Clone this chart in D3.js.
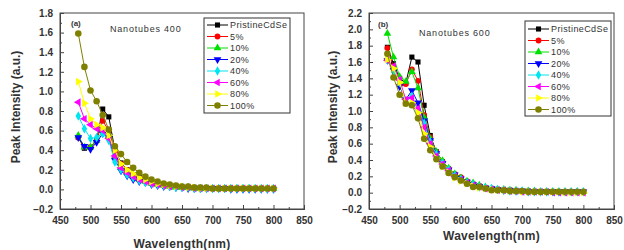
<!DOCTYPE html>
<html>
<head>
<meta charset="utf-8">
<script src="https://cdn.jsdelivr.net/npm/d3@7"></script>
<style>
  body { margin: 0; background: #fff; }
  text { font-family: "Liberation Sans", Arial, sans-serif; }
</style>
</head>
<body>
<div id="container"></div>
<script>
/* DATA */
const wavelengths = [480,490,500,510,520,530,540,550,560,570,580,590,600,610,620,630,640,650,660,670,680,690,700,710,720,730,740,750,760,770,780,790,800];
const seriesNames = ["PristineCdSe", "5%", "10%", "20%", "40%", "60%", "80%", "100%"];

// Nanotubes 400
const pristine400 = [0.53,0.42,0.43,0.50,0.82,0.74,0.40,0.27,0.20,0.15,0.12,0.09,0.07,0.05,0.04,0.03,0.03,0.02,0.02,0.02,0.02,0.01,0.01,0.01,0.01,0.01,0.01,0.01,0.01,0.01,0.01,0.01,0.01];
const p5_400  = [0.53,0.43,0.43,0.50,0.70,0.60,0.38,0.26,0.20,0.15,0.11,0.09,0.07,0.05,0.04,0.03,0.03,0.02,0.02,0.02,0.01,0.01,0.01,0.01,0.01,0.01,0.01,0.01,0.01,0.01,0.01,0.01,0.01];
const p10_400 = [0.55,0.43,0.43,0.50,0.60,0.55,0.33,0.22,0.17,0.13,0.10,0.08,0.06,0.05,0.04,0.03,0.02,0.02,0.02,0.01,0.01,0.01,0.01,0.01,0.01,0.01,0.01,0.01,0.01,0.01,0.01,0.01,0.01];
const p20_400 = [0.53,0.44,0.41,0.48,0.57,0.52,0.30,0.19,0.14,0.10,0.08,0.07,0.05,0.04,0.03,0.03,0.02,0.02,0.01,0.01,0.01,0.01,0.01,0.01,0.01,0.00,0.00,0.00,0.00,0.00,0.00,0.00,0.00];
const p40_400 = [0.75,0.62,0.52,0.53,0.57,0.50,0.28,0.20,0.15,0.12,0.09,0.07,0.06,0.05,0.04,0.03,0.02,0.02,0.02,0.01,0.01,0.01,0.01,0.01,0.01,0.01,0.01,0.01,0.01,0.01,0.01,0.01,0.01];
const p60_400 = [0.89,0.72,0.66,0.62,0.60,0.52,0.34,0.22,0.17,0.13,0.10,0.08,0.06,0.05,0.04,0.03,0.03,0.02,0.02,0.01,0.01,0.01,0.01,0.01,0.01,0.01,0.01,0.01,0.01,0.01,0.01,0.01,0.01];
const p80_400 = [1.10,0.88,0.72,0.66,0.63,0.55,0.40,0.26,0.20,0.16,0.12,0.10,0.08,0.06,0.05,0.04,0.03,0.03,0.02,0.02,0.01,0.01,0.01,0.01,0.01,0.01,0.01,0.01,0.01,0.01,0.01,0.01,0.01];
const p100_400 = [1.59,1.25,1.01,0.90,0.76,0.61,0.44,0.36,0.28,0.22,0.17,0.13,0.10,0.08,0.06,0.05,0.04,0.03,0.03,0.02,0.02,0.02,0.01,0.01,0.01,0.01,0.01,0.01,0.01,0.01,0.01,0.01,0.01];

// Nanotubes 600
const pristine600 = [1.78,1.58,1.40,1.34,1.66,1.60,1.07,0.70,0.50,0.38,0.29,0.22,0.17,0.13,0.10,0.08,0.06,0.05,0.04,0.03,0.03,0.02,0.02,0.02,0.01,0.01,0.01,0.01,0.01,0.01,0.01,0.01,0.01];
const p5_600  = [1.77,1.54,1.32,1.33,1.51,1.37,0.95,0.68,0.50,0.38,0.29,0.23,0.19,0.14,0.11,0.08,0.06,0.05,0.04,0.03,0.03,0.02,0.02,0.02,0.01,0.01,0.01,0.01,0.01,0.01,0.01,0.01,0.01];
const p10_600 = [1.95,1.66,1.42,1.36,1.48,1.28,0.92,0.66,0.50,0.39,0.30,0.23,0.18,0.14,0.12,0.09,0.07,0.05,0.04,0.04,0.03,0.03,0.02,0.02,0.02,0.01,0.01,0.01,0.01,0.01,0.01,0.01,0.01];
const p20_600 = [1.62,1.50,1.30,1.14,1.25,1.10,0.88,0.64,0.48,0.36,0.28,0.22,0.17,0.13,0.10,0.08,0.06,0.05,0.04,0.03,0.03,0.02,0.02,0.01,0.01,0.01,0.01,0.01,0.01,0.01,0.01,0.01,0.01];
const p40_600 = [1.63,1.48,1.35,1.13,1.18,1.00,0.85,0.62,0.47,0.36,0.28,0.21,0.16,0.12,0.10,0.07,0.06,0.05,0.04,0.03,0.02,0.02,0.02,0.01,0.01,0.01,0.01,0.01,0.01,0.01,0.01,0.01,0.01];
const p60_600 = [1.62,1.55,1.38,1.14,1.16,1.03,0.80,0.60,0.45,0.35,0.27,0.20,0.16,0.12,0.09,0.07,0.05,0.04,0.03,0.03,0.02,0.02,0.01,0.01,0.01,0.01,0.01,0.00,0.00,0.00,0.00,0.00,0.00];
const p80_600 = [1.63,1.52,1.35,1.10,1.10,0.98,0.72,0.56,0.42,0.32,0.25,0.18,0.14,0.11,0.08,0.06,0.05,0.04,0.03,0.03,0.02,0.02,0.01,0.01,0.01,0.01,0.01,0.01,0.01,0.00,0.00,0.00,0.00];
const p100_600 = [1.70,1.41,1.20,1.09,1.07,0.91,0.66,0.52,0.41,0.32,0.24,0.19,0.15,0.11,0.07,0.07,0.05,0.03,0.03,0.03,0.02,0.02,0.02,0.01,0.01,0.01,0.01,0.01,0.01,0.01,0.01,0.01,0.01];

const xTicks = [450,500,550,600,650,700,750,800,850];
const yTicks400 = [-0.2,0.0,0.2,0.4,0.6,0.8,1.0,1.2,1.4,1.6,1.8];
const yTicks600 = [-0.2,0.0,0.2,0.4,0.6,0.8,1.0,1.2,1.4,1.6,1.8,2.0,2.2];

/* STYLE */
const colors = ["#000000","#ff0000","#00e000","#0000ff","#00e5ee","#ff00ff","#ffff00","#808000"];
const symbols = [
  {type: d3.symbolSquare, rot: 0},
  {type: d3.symbolCircle, rot: 0},
  {type: d3.symbolTriangle, rot: 0},
  {type: d3.symbolTriangle, rot: 180},
  {type: d3.symbolDiamond, rot: 0},
  {type: d3.symbolTriangle, rot: -90},
  {type: d3.symbolTriangle, rot: 90},
  {type: d3.symbolCircle, rot: 0}
];

const panels = [
  {
    series: [pristine400, p5_400, p10_400, p20_400, p40_400, p60_400, p80_400, p100_400],
    yTicks: yTicks400, yMax: 1.8,
    left: 60, right: 304, top: 13, bottom: 209,
    tag: "(a)", tagX: 71, tagY: 26,
    title: "Nanotubes 400", titleX: 110, titleY: 32,
    legX: 204, legY: 18, legW: 86, legH: 95, legRow0: 25,
    yTitleX: 20, xTitleY: 248
  },
  {
    series: [pristine600, p5_600, p10_600, p20_600, p40_600, p60_600, p80_600, p100_600],
    yTicks: yTicks600, yMax: 2.2,
    left: 369, right: 614, top: 13, bottom: 209,
    tag: "(b)", tagX: 378, tagY: 27,
    title: "Nanotubes 600", titleX: 419, titleY: 36,
    legX: 525, legY: 21, legW: 86, legH: 95, legRow0: 29,
    yTitleX: 337, xTitleY: 240
  }
];

const svg = d3.select("#container")
  .append("svg")
  .attr("width", 624)
  .attr("height", 250);

panels.forEach(p => {
  const xScale = d3.scaleLinear().domain([450, 850]).range([p.left, p.right]);
  const yScale = d3.scaleLinear().domain([-0.2, p.yMax]).range([p.bottom, p.top]);

  const g = svg.append("g");

  // frame
  g.append("rect")
    .attr("x", p.left).attr("y", p.top)
    .attr("width", p.right - p.left).attr("height", p.bottom - p.top)
    .attr("fill", "none").attr("stroke", "#444").attr("stroke-width", 1);

  // axes (ticks inward)
  const xAxis = d3.axisBottom(xScale).tickValues(xTicks).tickSize(-4).tickPadding(8).tickFormat(d3.format("d"));
  const xMinor = d3.axisBottom(xScale).tickValues(d3.range(475, 850, 50)).tickSize(-2).tickFormat("");
  const yAxis = d3.axisLeft(yScale).tickValues(p.yTicks).tickSize(-4).tickPadding(7).tickFormat(d3.format(".1f"));
  const yMinor = d3.axisLeft(yScale).tickValues(p.yTicks.slice(0, -1).map(v => v + 0.1)).tickSize(-2).tickFormat("");

  [[xAxis, "x"], [xMinor, "x"], [yAxis, "y"], [yMinor, "y"]].forEach(([ax, k]) => {
    const a = g.append("g")
      .attr("transform", k === "x" ? `translate(0,${p.bottom})` : `translate(${p.left},0)`)
      .call(ax);
    a.select(".domain").attr("stroke", "#444");
    a.selectAll(".tick line").attr("stroke", "#444");
    a.selectAll(".tick text")
      .style("font-size", "10px").style("font-weight", "bold").attr("fill", "#333");
  });

  // lines and markers
  const line = d3.line()
    .x((d, i) => xScale(wavelengths[i]))
    .y(d => yScale(d));

  p.series.forEach((vals, s) => {
    g.append("path")
      .datum(vals)
      .attr("d", line)
      .attr("fill", "none")
      .attr("stroke", colors[s])
      .attr("stroke-width", 1);
    g.selectAll(null)
      .data(vals)
      .join("path")
      .attr("transform", (d, i) => `translate(${xScale(wavelengths[i])},${yScale(d)}) rotate(${symbols[s].rot})`)
      .attr("d", d3.symbol().type(symbols[s].type).size(s === 7 ? 34 : 26))
      .attr("fill", colors[s]);
  });

  // panel texts
  g.append("text").attr("x", p.tagX).attr("y", p.tagY)
    .text(p.tag).style("font-size", "8px").style("font-weight", "bold").attr("fill", "#333");
  g.append("text").attr("x", p.titleX).attr("y", p.titleY)
    .text(p.title).style("font-size", "9px").style("letter-spacing", "0.8px").attr("fill", "#333");

  // axis titles
  g.append("text")
    .attr("transform", `translate(${p.yTitleX},${(p.top + p.bottom) / 2 - 4}) rotate(-90)`)
    .attr("text-anchor", "middle")
    .text("Peak Intensity (a.u.)")
    .style("font-size", "12px").style("font-weight", "bold").attr("fill", "#333");
  g.append("text")
    .attr("x", (p.left + p.right) / 2).attr("y", p.xTitleY)
    .attr("text-anchor", "middle")
    .text("Wavelength(nm)")
    .style("font-size", "12px").style("font-weight", "bold").style("letter-spacing", "0.3px").attr("fill", "#333");

  // legend
  const leg = g.append("g");
  leg.append("rect")
    .attr("x", p.legX).attr("y", p.legY).attr("width", p.legW).attr("height", p.legH)
    .attr("fill", "#fff").attr("stroke", "#333").attr("stroke-width", 1);
  seriesNames.forEach((name, s) => {
    const yy = p.legRow0 + s * 11.5;
    leg.append("line")
      .attr("x1", p.legX + 3).attr("x2", p.legX + 24).attr("y1", yy).attr("y2", yy)
      .attr("stroke", colors[s]).attr("stroke-width", 1);
    leg.append("path")
      .attr("transform", `translate(${p.legX + 13.5},${yy}) rotate(${symbols[s].rot})`)
      .attr("d", d3.symbol().type(symbols[s].type).size(s === 7 ? 34 : 26))
      .attr("fill", colors[s]);
    leg.append("text")
      .attr("x", p.legX + 26).attr("y", yy + 3)
      .text(name)
      .style("font-size", "9px").style("letter-spacing", "0.4px").attr("fill", "#333");
  });
});
</script>
</body>
</html>
